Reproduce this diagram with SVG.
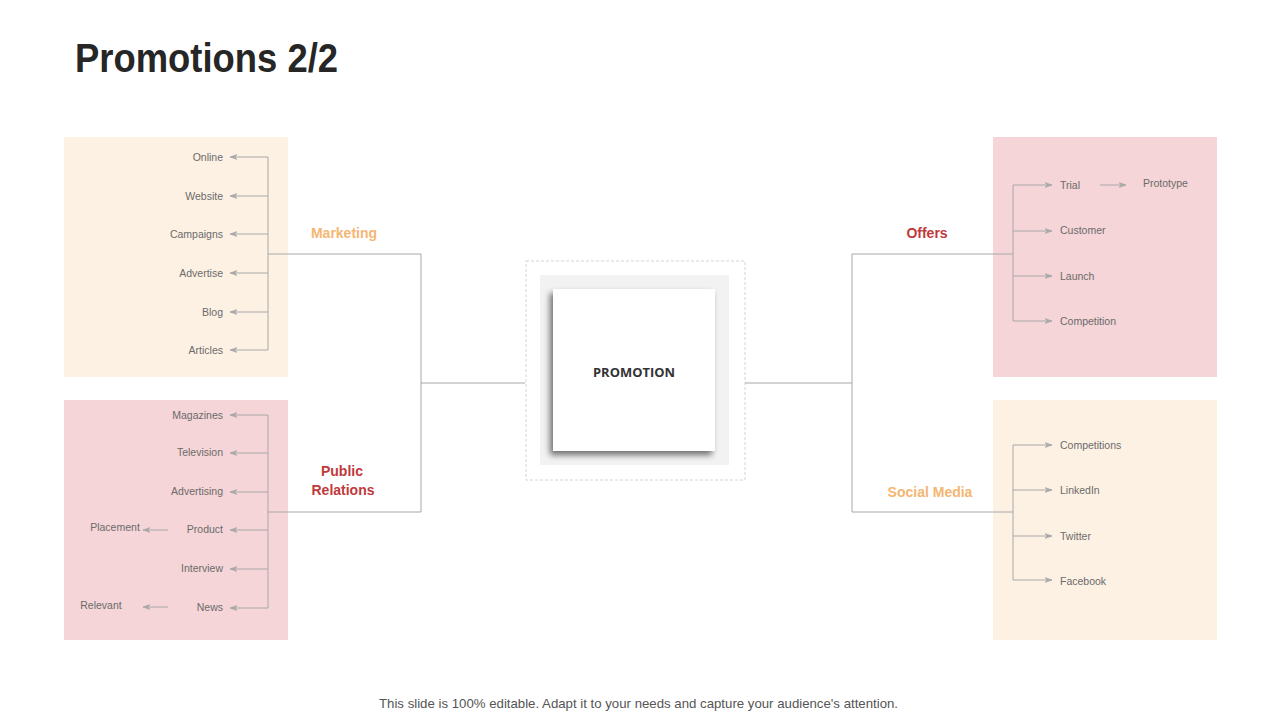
<svg xmlns="http://www.w3.org/2000/svg" width="1280" height="720" viewBox="0 0 1280 720">
<style>
.item{font-family:"Liberation Sans",Arial,sans-serif;font-size:10.5px;fill:#6b6b6b}
.r{text-anchor:end}
.ln{stroke:#a8a8a8;stroke-width:1;fill:none}
.arr{stroke:#a8a8a8;stroke-width:1;fill:none;marker-end:url(#ah)}
.lbl{font-family:"Liberation Sans",Arial,sans-serif;font-size:14px;font-weight:bold;text-anchor:middle}
</style>
<defs>
<marker id="ah" markerWidth="8" markerHeight="6" refX="7" refY="3" orient="auto" markerUnits="userSpaceOnUse">
<path d="M0,0.5 L7,3 L0,5.5 L2,3 Z" fill="#a8a8a8" stroke="#a8a8a8" stroke-width="0.6"/>
</marker>
<filter id="sh" x="-20%" y="-20%" width="140%" height="140%">
<feGaussianBlur in="SourceAlpha" stdDeviation="3"/>
<feOffset dx="-3" dy="4" result="b"/>
<feComponentTransfer><feFuncA type="linear" slope="0.55"/></feComponentTransfer>
<feMerge><feMergeNode/><feMergeNode in="SourceGraphic"/></feMerge>
</filter>
</defs>
<rect width="1280" height="720" fill="#ffffff"/>
<text x="75" y="72" font-family="Liberation Sans,Arial,sans-serif" font-size="40" font-weight="bold" fill="#262626" textLength="263" lengthAdjust="spacingAndGlyphs">Promotions 2/2</text>

<g id="marketing-box">
<rect x="64" y="137" width="224" height="240" fill="#fdf1e4"/>
<text class="item r" x="223" y="161">Online</text>
<text class="item r" x="223" y="200">Website</text>
<text class="item r" x="223" y="238">Campaigns</text>
<text class="item r" x="223" y="277">Advertise</text>
<text class="item r" x="223" y="316">Blog</text>
<text class="item r" x="223" y="354">Articles</text>
</g>
<g id="pr-box">
<rect x="64" y="400" width="224" height="240" fill="#f5d5d7"/>
<text class="item r" x="223" y="419">Magazines</text>
<text class="item r" x="223" y="456">Television</text>
<text class="item r" x="223" y="495">Advertising</text>
<text class="item r" x="223" y="533">Product</text>
<text class="item r" x="223" y="572">Interview</text>
<text class="item r" x="223" y="611">News</text>
<text class="item" x="115" y="531" text-anchor="middle">Placement</text>
<text class="item" x="101" y="609" text-anchor="middle">Relevant</text>
</g>
<g id="offers-box">
<rect x="993" y="137" width="224" height="240" fill="#f5d5d7"/>
<text class="item" x="1060" y="189">Trial</text>
<text class="item" x="1143" y="187">Prototype</text>
<text class="item" x="1060" y="234">Customer</text>
<text class="item" x="1060" y="280">Launch</text>
<text class="item" x="1060" y="325">Competition</text>
</g>
<g id="social-box">
<rect x="993" y="400" width="224" height="240" fill="#fdf1e4"/>
<text class="item" x="1060" y="449">Competitions</text>
<text class="item" x="1060" y="494">LinkedIn</text>
<text class="item" x="1060" y="540">Twitter</text>
<text class="item" x="1060" y="585">Facebook</text>
</g>

<g id="labels">
<text class="lbl" x="344" y="238" fill="#f4b673">Marketing</text>
<text class="lbl" x="342" y="476" fill="#c0393b">Public</text>
<text class="lbl" x="343" y="495" fill="#c0393b">Relations</text>
<text class="lbl" x="927" y="238" fill="#c0393b">Offers</text>
<text class="lbl" x="930" y="497" fill="#f4b673">Social Media</text>
</g>

<g id="promotion">
<rect x="526" y="261" width="219" height="219" fill="none" stroke="#d4d4d4" stroke-dasharray="3,2"/>
<rect x="540" y="275" width="189" height="190" fill="#f2f2f2"/>
<rect x="553" y="289" width="162" height="162" fill="#ffffff" filter="url(#sh)"/>
<text x="634" y="377" font-family="Open Sans,Liberation Sans,sans-serif" font-size="13" font-weight="bold" fill="#333333" text-anchor="middle" textLength="82" lengthAdjust="spacingAndGlyphs">PROMOTION</text>
</g>

<g id="connectors">
<path class="ln" d="M268,157 V350 M268,254 H421 M268,415 V608 M268,512 H421 M421,254 V512 M421,383 H525"/>
<path class="arr" d="M268,157 H230"/>
<path class="arr" d="M268,196 H230"/>
<path class="arr" d="M268,234 H230"/>
<path class="arr" d="M268,273 H230"/>
<path class="arr" d="M268,312 H230"/>
<path class="arr" d="M268,350 H230"/>
<path class="arr" d="M268,415 H230"/>
<path class="arr" d="M268,453 H230"/>
<path class="arr" d="M268,492 H230"/>
<path class="arr" d="M268,530 H230"/>
<path class="arr" d="M268,569 H230"/>
<path class="arr" d="M268,608 H230"/>
<path class="arr" d="M168,530 H143"/>
<path class="arr" d="M168,607 H143"/>
<path class="ln" d="M745,383 H852 M852,254 V512 M852,254 H1013 M852,512 H1013 M1013,185 V321 M1013,445 V580"/>
<path class="arr" d="M1013,185 H1052"/>
<path class="arr" d="M1013,231 H1052"/>
<path class="arr" d="M1013,276 H1052"/>
<path class="arr" d="M1013,321 H1052"/>
<path class="arr" d="M1100,185 H1126"/>
<path class="arr" d="M1013,445 H1052"/>
<path class="arr" d="M1013,490 H1052"/>
<path class="arr" d="M1013,536 H1052"/>
<path class="arr" d="M1013,580 H1052"/>
</g>

<text x="379" y="708" font-family="Liberation Sans,Arial,sans-serif" font-size="13" fill="#555555" textLength="519" lengthAdjust="spacingAndGlyphs">This slide is 100% editable. Adapt it to your needs and capture your audience's attention.</text>
</svg>
